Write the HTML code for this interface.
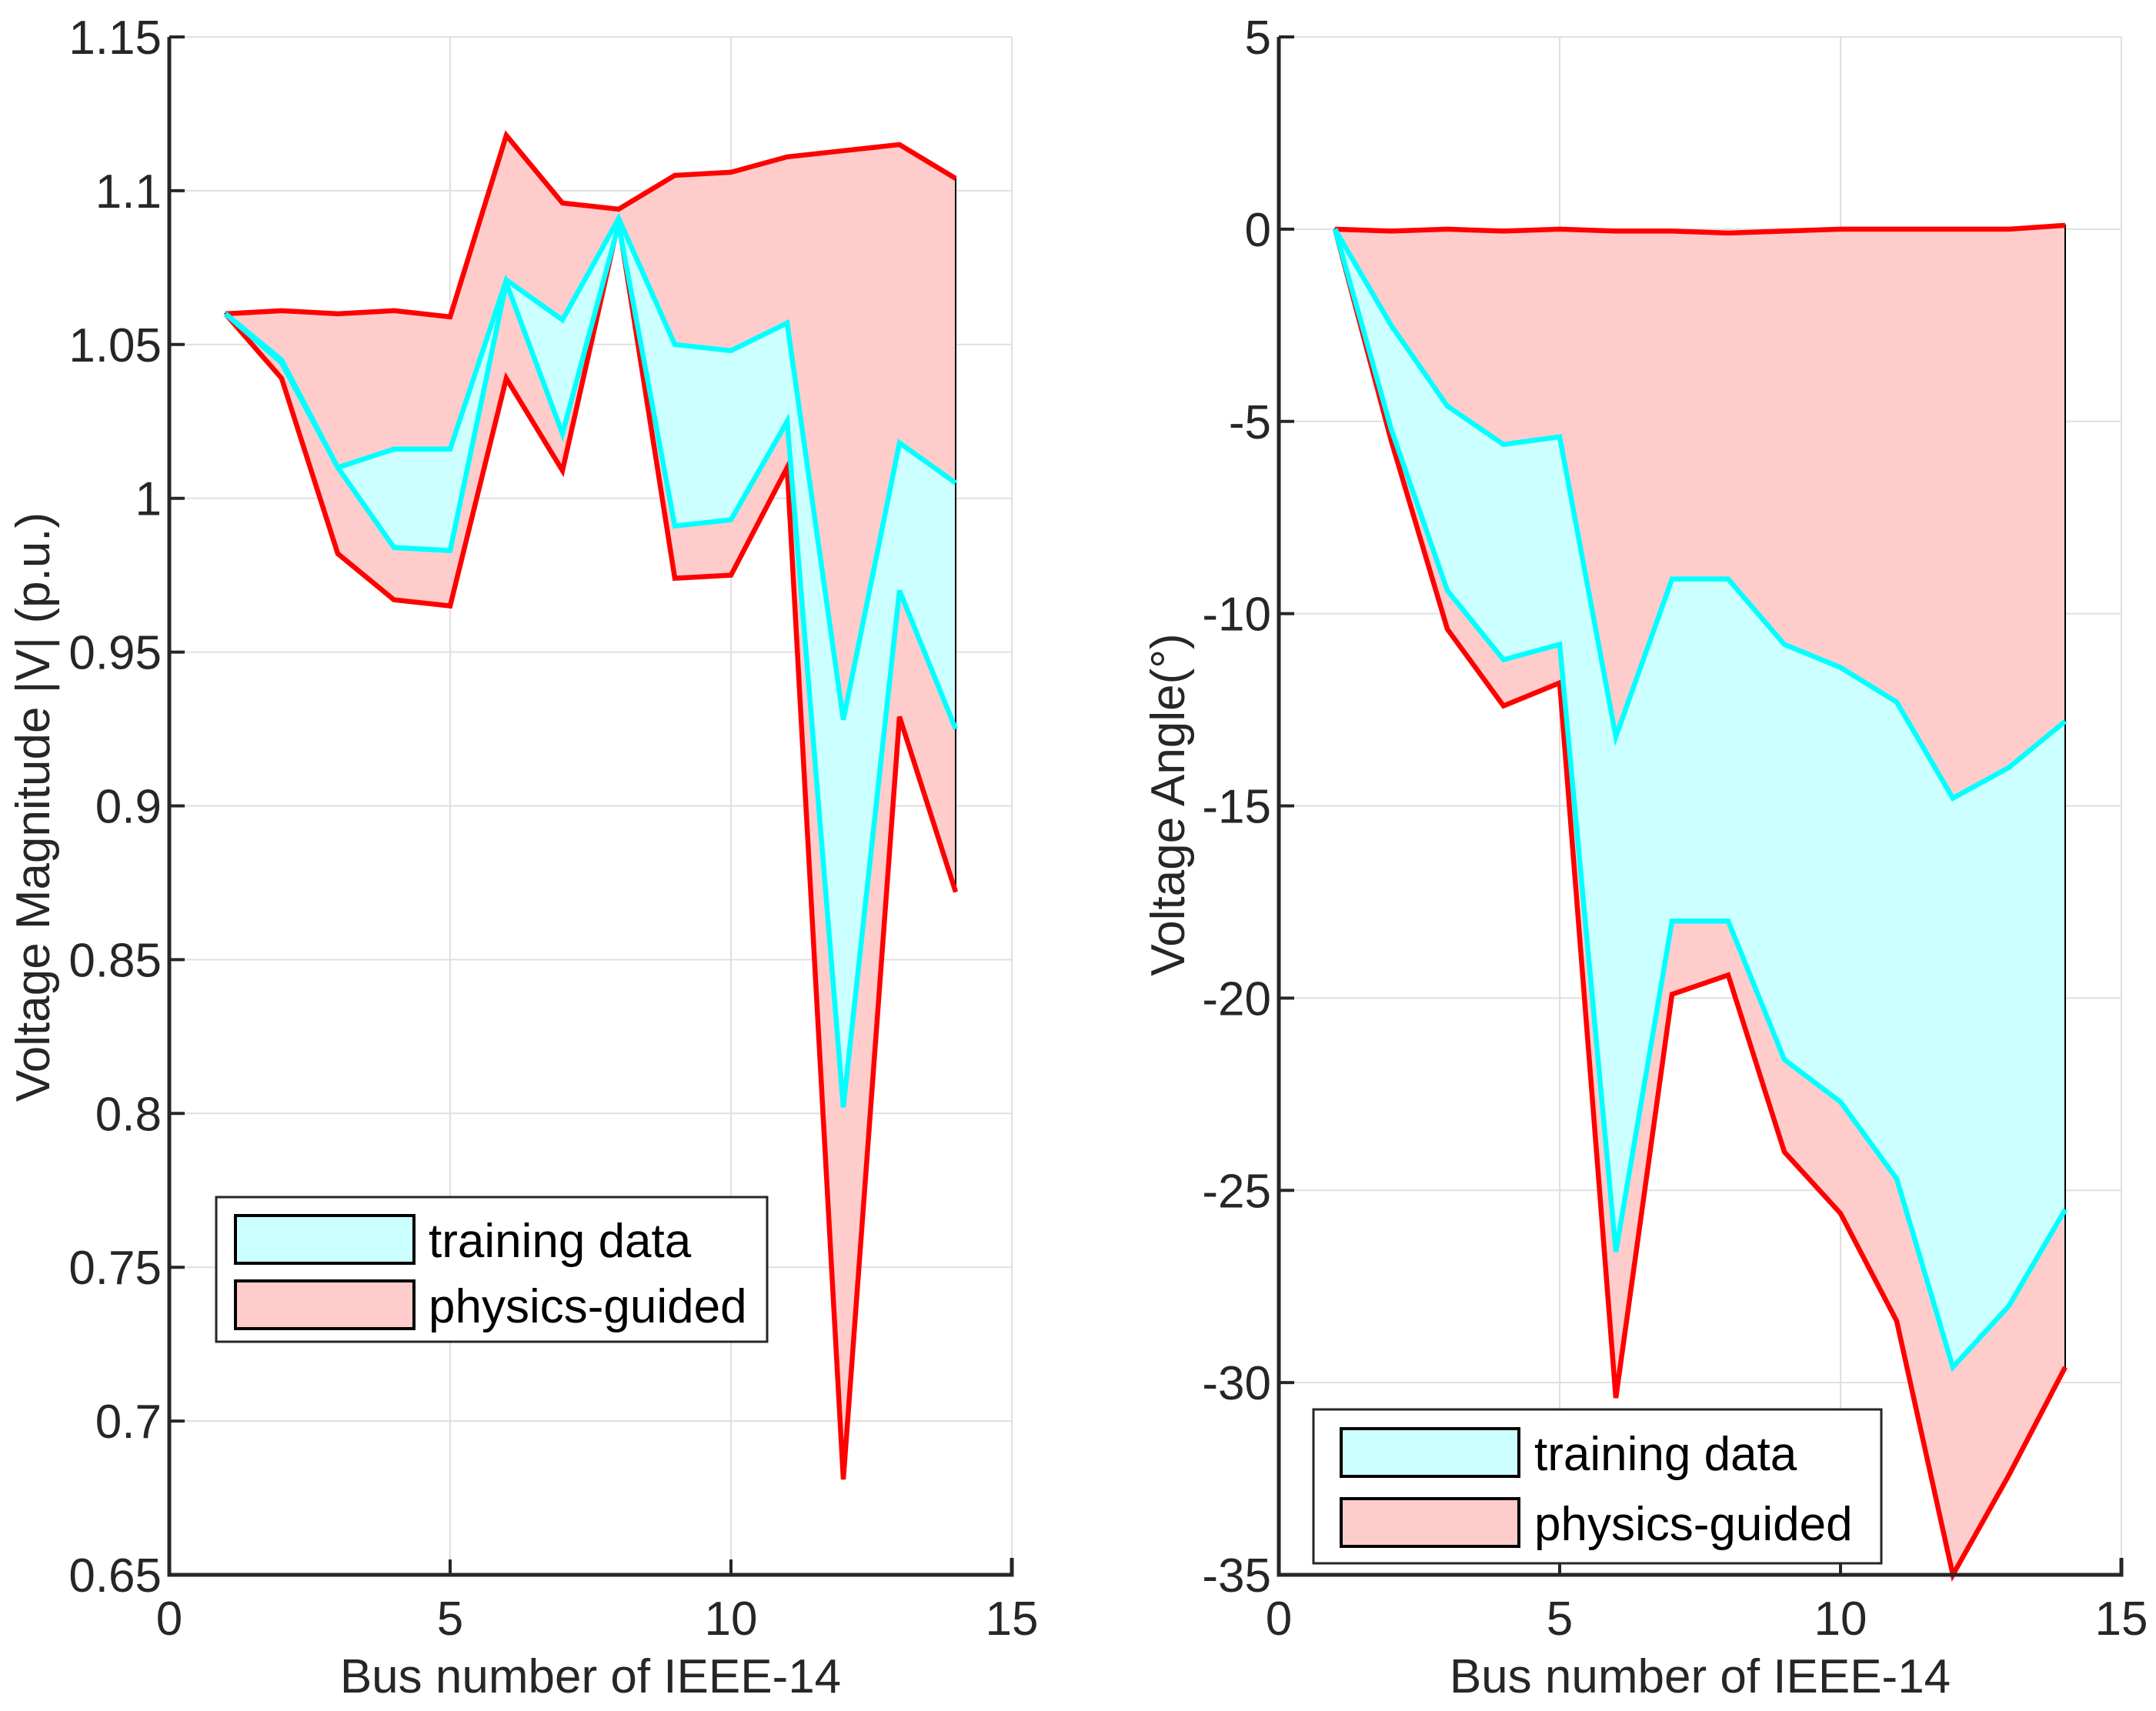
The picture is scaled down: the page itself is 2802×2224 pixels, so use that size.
<!DOCTYPE html>
<html><head><meta charset="utf-8">
<style>
html,body{margin:0;padding:0;background:#fff;}
svg{display:block;font-family:"Liberation Sans",Arial,sans-serif;}
</style></head>
<body>
<svg id="fig" width="2802" height="2224" viewBox="0 0 2802 2224" xmlns="http://www.w3.org/2000/svg"></svg>
<script>
const buses = [1,2,3,4,5,6,7,8,9,10,11,12,13,14];
const magPhysUpper = [1.060,1.061,1.060,1.061,1.059,1.118,1.096,1.094,1.105,1.106,1.111,1.113,1.115,1.104];
const magPhysLower = [1.060,1.039,0.982,0.967,0.965,1.039,1.009,1.090,0.974,0.975,1.010,0.681,0.929,0.872];
const magTrainUpper = [1.060,1.045,1.010,1.016,1.016,1.071,1.058,1.091,1.050,1.048,1.057,0.928,1.018,1.005];
const magTrainLower = [1.060,1.044,1.010,0.984,0.983,1.070,1.021,1.089,0.991,0.993,1.025,0.802,0.970,0.925];
const angPhysUpper = [0,-0.05,0,-0.05,0,-0.05,-0.05,-0.1,-0.05,0,0,0,0,0.1];
const angPhysLower = [0,-5.5,-10.4,-12.4,-11.8,-30.4,-19.9,-19.4,-24.0,-25.6,-28.4,-35.0,-32.4,-29.6];
const angTrainUpper = [0,-2.5,-4.6,-5.6,-5.4,-13.2,-9.1,-9.1,-10.8,-11.4,-12.3,-14.8,-14.0,-12.8];
const angTrainLower = [0,-5.2,-9.4,-11.2,-10.8,-26.6,-18.0,-18.0,-21.6,-22.7,-24.7,-29.6,-28.0,-25.5];
const xTicks = [0,5,10,15];
const magTicks = [0.65,0.7,0.75,0.8,0.85,0.9,0.95,1,1.05,1.1,1.15];
const magTickLabels = ["0.65","0.7","0.75","0.8","0.85","0.9","0.95","1","1.05","1.1","1.15"];
const angTicks = [-35,-30,-25,-20,-15,-10,-5,0,5];
const angTickLabels = ["-35","-30","-25","-20","-15","-10","-5","0","5"];

const NS="http://www.w3.org/2000/svg";
const svg=document.getElementById('fig');
function mk(tag,attrs,parent){const e=document.createElementNS(NS,tag);for(const k in attrs)e.setAttribute(k,attrs[k]);(parent||svg).appendChild(e);return e;}

function panel(cfg){
  const g=mk('g',{});
  
  
  const L=cfg.x0,R=cfg.x1,T=48,B=2047;
  const sx=v=>L+(v-0)/(15-0)*(R-L);
  const sy=v=>B-(v-cfg.ymin)/(cfg.ymax-cfg.ymin)*(B-T);
  xTicks.forEach(t=>{const l=mk('line',{x1:sx(t),x2:sx(t),y1:T,y2:B,stroke:'#dfdfdf','stroke-width':2},g);
    });
  cfg.ticks.forEach(t=>{const l=mk('line',{x1:L,x2:R,y1:sy(t),y2:sy(t),stroke:'#dfdfdf','stroke-width':2},g);
    });
  function band(up,lo,fill,stroke,name){
    let d='M'+buses.map((b,i)=>sx(b)+','+sy(up[i])).join(' L');
    d+=' L'+buses.slice().reverse().map((b,j)=>{const i=buses.length-1-j;return sx(b)+','+sy(lo[i]);}).join(' L')+' Z';
    const p=mk('path',{d:d,fill:fill,stroke:'#000','stroke-width':2},g);
    
    [up,lo].forEach((arr,k)=>{
      const pl=mk('polyline',{points:buses.map((b,i)=>sx(b)+','+sy(arr[i])).join(' '),fill:'none',stroke:stroke,'stroke-width':6.5,'stroke-linejoin':'miter'},g);
      
    });
  }
  band(cfg.pu,cfg.pl,'#ffcccc','#ff0000','physics-guided');
  band(cfg.tu,cfg.tl,'#ccffff','#00ffff','training-data');
  const ax=mk('path',{d:`M${L},${T} L${L},${B} L${R},${B} L${R},${B-22}`,fill:'none',stroke:'#262626','stroke-width':5},g);
  
  xTicks.forEach(t=>{mk('line',{x1:sx(t),x2:sx(t),y1:B,y2:B-20,stroke:'#262626','stroke-width':4},g);
    const tx=mk('text',{x:sx(t),y:B+78,'font-size':62,fill:'#262626','text-anchor':'middle'},g);tx.textContent=t;
    });
  cfg.ticks.forEach((t,i)=>{mk('line',{x1:L,x2:L+20,y1:sy(t),y2:sy(t),stroke:'#262626','stroke-width':4},g);
    const tx=mk('text',{x:L-10,y:sy(t)+22,'font-size':62,fill:'#262626','text-anchor':'end'},g);tx.textContent=cfg.labels[i];
    });
  const xl=mk('text',{x:(L+R)/2,y:2200,'font-size':62,fill:'#262626','text-anchor':'middle'},g);xl.textContent='Bus number of IEEE-14';
  
  const yl=mk('text',{x:0,y:0,'font-size':62,fill:'#262626','text-anchor':'middle',transform:`translate(${cfg.ylx},${cfg.yly}) rotate(-90)`},g);yl.textContent=cfg.ylabel;
  
  const lg=mk('g',{},g);
  const b=cfg.leg;
  mk('rect',{x:b.x,y:b.y,width:b.w,height:b.h,fill:'#fff',stroke:'#262626','stroke-width':3},lg);
  [['#ccffff','training data',b.r1],['#ffcccc','physics-guided',b.r2]].forEach(([c,t,ry])=>{
    const e=mk('g',{},lg);
    mk('rect',{x:b.px,y:ry,width:b.pw,height:62,fill:c,stroke:'#000','stroke-width':4},e);
    const tx=mk('text',{x:b.tx,y:ry+54,'font-size':62,fill:'#000'},e);tx.textContent=t;
  });
}
panel({name:'voltage-magnitude-panel',x0:220,x1:1315,ymin:0.65,ymax:1.15,ticks:magTicks,labels:magTickLabels,
  pu:magPhysUpper,pl:magPhysLower,tu:magTrainUpper,tl:magTrainLower,
  ylabel:'Voltage Magnitude |V| (p.u.)',ylx:64,yly:1049,
  leg:{x:281,y:1556,w:716,h:188,px:306,pw:232,r1:1580,r2:1665,tx:557}});
panel({name:'voltage-angle-panel',x0:1662,x1:2757,ymin:-35,ymax:5,ticks:angTicks,labels:angTickLabels,
  pu:angPhysUpper,pl:angPhysLower,tu:angTrainUpper,tl:angTrainLower,
  ylabel:'Voltage Angle(°)',ylx:1539,yly:1046,
  leg:{x:1707,y:1832,w:738,h:200,px:1743,pw:231,r1:1857,r2:1948,tx:1994}});
</script>
</body></html>
